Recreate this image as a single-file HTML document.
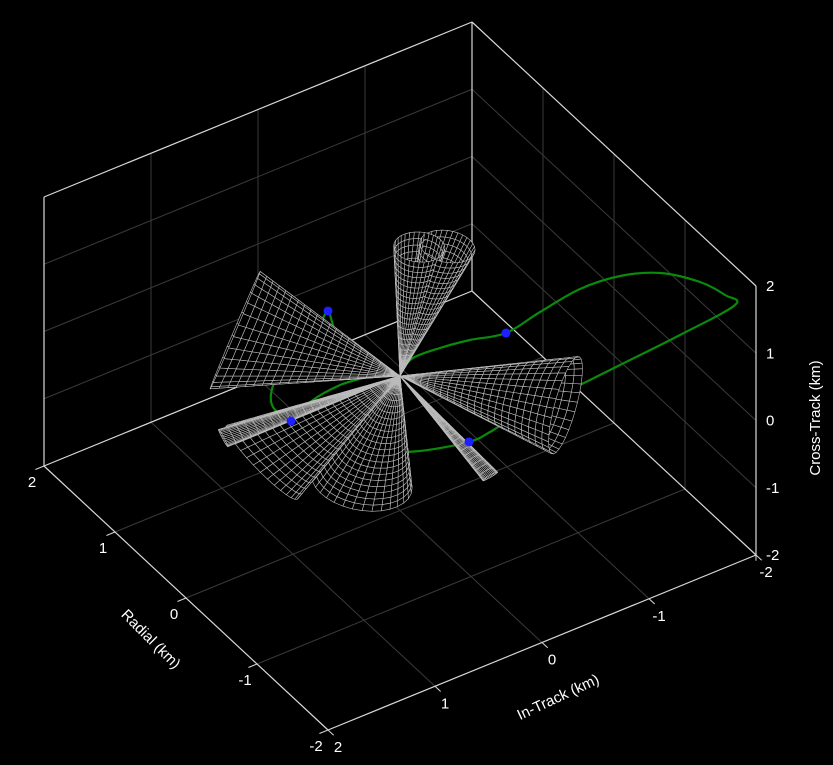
<!DOCTYPE html>
<html><head><meta charset="utf-8"><style>
html,body{margin:0;padding:0;background:#000;}
svg{display:block;}
text{font-family:"Liberation Sans",Arial,sans-serif;fill:#fff;font-size:15px;}
</style></head><body>
<svg id="chart" width="833" height="765" viewBox="0 0 833 765" xmlns="http://www.w3.org/2000/svg">
<rect width="833" height="765" fill="#000"/>
<g id="grid"></g>
<g id="box"></g>
<g id="curve"></g>
<g id="cones"></g>
<g id="dots"></g>
<g id="labels"></g>
<text x="151" y="644" text-anchor="middle" transform="rotate(45 151 639)">Radial (km)</text>
<text x="558" y="702" text-anchor="middle" transform="rotate(-25 558 697)">In-Track (km)</text>
<text x="815" y="423" text-anchor="middle" transform="rotate(-90 815 418)">Cross-Track (km)</text>
</svg>
<script>
// ---- data ----
const ticks = [-2, -1, 0, 1, 2];
const tickLabels = ["-2", "-1", "0", "1", "2"];
// trajectory (Radial, In-Track, Cross-Track) km
const trajR = [0.042,0.133,0.123,0.078,-0.004,-0.212,-0.425,-0.673,-0.955,-1.363,-1.678,-1.883,-1.623,-1.397,-1.171,-0.944,-0.977,-0.991,-0.875,-0.703,-0.425,-0.005,0.246,0.496,0.778,0.912,0.994,0.764,0.436,0.150,0.163,0.122,-0.005];
const trajI = [-0.028,-0.21,-0.455,-0.706,-0.988,-1.168,-1.40,-1.61,-1.797,-1.899,-1.924,-1.881,-1.54,-1.129,-0.718,-0.373,-0.193,0.013,0.394,0.654,0.936,1.022,1.033,0.839,0.465,0.142,0.013,0.101,0.178,0.134,0.452,0.732,1.022];
const trajC = [0,0,0,0,0,0.4,0.8,1.1,1.3,1.5,1.6,1.68,1.2,0.8,0.4,0,0,0,0,0,0,0,0,0,0,0,0,0,0,0,0,0,0];
// waypoints
const dotR = [0.994,-0.005,-0.991,-0.004];
const dotI = [0.013,1.022,0.013,-0.988];
const dotC = [0,0,0,0];
// cones: axis end point (R, I, C) and end radius (km)
const coneR = [-0.08,0.0,0.98,0.32,0.18,0.04,-1.09,-1.02];
const coneI = [-0.39,-0.18,0.89,1.44,1.17,0.33,-0.12,-0.87];
const coneC = [1.75,1.8,0.3,-0.3,-0.7,-1.4,-0.5,0.0];
const coneRad = [0.22,0.2,0.6,0.09,0.45,0.4,0.07,0.48];

// ---- projection ----
function px(r,i,c){return 400-71*r-107*i;}
function py(r,i,c){return 376-66*r+43.75*i-67.25*c;}
function depth(r,i,c){return -1.507*r+i+2.13*c;}
const NS="http://www.w3.org/2000/svg";
function mk(tag,attrs,parent){const e=document.createElementNS(NS,tag);for(const k in attrs)e.setAttribute(k,attrs[k]);parent.appendChild(e);return e;}
function line(g,a,b,stroke,w){return mk('line',{x1:px(...a),y1:py(...a),x2:px(...b),y2:py(...b),stroke:stroke,'stroke-width':w},g);}

// grid
const grid=document.getElementById('grid');
const gc="#3a3a3a";
ticks.slice(1,4).forEach(t=>{
  let l;
  l=line(grid,[2,t,-2],[2,t,2],gc,1);
  
  
  l=line(grid,[2,-2,t],[2,2,t],gc,1);
  
  
  l=line(grid,[t,-2,-2],[t,-2,2],gc,1);
  
  
  l=line(grid,[-2,-2,t],[2,-2,t],gc,1);
  
  
  l=line(grid,[t,-2,-2],[t,2,-2],gc,1);
  
  
  l=line(grid,[-2,t,-2],[2,t,-2],gc,1);
  
  
});
// box
const box=document.getElementById('box');
const bc="#d8d8d8";
[[[2,2,-2],[2,2,2]],[[2,-2,-2],[2,-2,2]],[[-2,-2,-2],[-2,-2,2]],[[2,2,2],[2,-2,2]],[[2,-2,2],[-2,-2,2]],
 [[2,-2,-2],[2,2,-2]],[[2,-2,-2],[-2,-2,-2]],[[2,2,-2],[-2,2,-2]],[[-2,2,-2],[-2,-2,-2]]].forEach(e=>{
  const l=line(box,e[0],e[1],bc,1.2);
  
  
});
// ticks & labels
const lab=document.getElementById('labels');
ticks.forEach((t,k)=>{
  let l=line(box,[t,2,-2],[t,2.08,-2],bc,1);
  
  
  let tx=mk('text',{x:px(t,2,-2)-12,y:py(t,2,-2)+21,'text-anchor':'middle'},lab);
  tx.textContent=tickLabels[k];
  
  
  l=line(box,[-2,t,-2],[-2.08,t,-2],bc,1);
  
  
  tx=mk('text',{x:px(-2,t,-2)+10,y:py(-2,t,-2)+22,'text-anchor':'middle'},lab);
  tx.textContent=tickLabels[k];
  
  
  l=line(box,[-2,-2,t],[-2.06,-1.96,t],bc,1);
  
  
  tx=mk('text',{x:px(-2,-2,t)+10,y:py(-2,-2,t)+5,'text-anchor':'start'},lab);
  tx.textContent=tickLabels[k];
  
  
});

// trajectory (smoothed Catmull-Rom through projected points)
const cg=document.getElementById('curve');
const P=trajR.map((r,k)=>[px(r,trajI[k],trajC[k]),py(r,trajI[k],trajC[k])]);
let d='M'+P[0][0].toFixed(1)+' '+P[0][1].toFixed(1);
for(let k=0;k<P.length-1;k++){
  const p0=P[Math.max(0,k-1)],p1=P[k],p2=P[k+1],p3=P[Math.min(P.length-1,k+2)];
  const c1=[p1[0]+(p2[0]-p0[0])/6,p1[1]+(p2[1]-p0[1])/6];
  const c2=[p2[0]-(p3[0]-p1[0])/6,p2[1]-(p3[1]-p1[1])/6];
  d+=' C'+c1[0].toFixed(1)+' '+c1[1].toFixed(1)+' '+c2[0].toFixed(1)+' '+c2[1].toFixed(1)+' '+p2[0].toFixed(1)+' '+p2[1].toFixed(1);
}
const path=mk('path',{d:d,fill:'none',stroke:'#0a8a0a','stroke-width':2.2,'stroke-linejoin':'round'},cg);



// cones
const cones=document.getElementById('cones');
const quads=[];
const NR=22, NG=32;
coneR.forEach((ar,ci)=>{
  const a=[ar,coneI[ci],coneC[ci]];
  const L=Math.hypot(...a);
  const u=a.map(v=>v/L);
  let ref=Math.abs(u[2])<0.9?[0,0,1]:[1,0,0];
  let e1=[u[1]*ref[2]-u[2]*ref[1],u[2]*ref[0]-u[0]*ref[2],u[0]*ref[1]-u[1]*ref[0]];
  const n1=Math.hypot(...e1); e1=e1.map(v=>v/n1);
  const e2=[u[1]*e1[2]-u[2]*e1[1],u[2]*e1[0]-u[0]*e1[2],u[0]*e1[1]-u[1]*e1[0]];
  const pt=(s,t)=>{const rad=coneRad[ci]*s, th=2*Math.PI*t/NG;
    return [0,1,2].map(j=>a[j]*s+rad*(Math.cos(th)*e1[j]+Math.sin(th)*e2[j]));};
  for(let s=0;s<NR;s++)for(let t=0;t<NG;t++){
    const p=[pt(s/NR,t),pt((s+1)/NR,t),pt((s+1)/NR,t+1),pt(s/NR,t+1)];
    const dep=p.reduce((acc,q)=>acc+depth(...q),0)/4;
    quads.push({p,dep,ci});
  }
});
quads.sort((x,y)=>x.dep-y.dep);
quads.forEach(q=>{
  const pts=q.p.map(v=>px(...v).toFixed(1)+','+py(...v).toFixed(1)).join(' ');
  const pg=mk('polygon',{points:pts,fill:'#000',stroke:'#bdbdbd','stroke-width':0.6},cones);
  
  
});

// waypoints
const dg=document.getElementById('dots');
dotR.forEach((r,k)=>{
  const c=mk('circle',{cx:px(r,dotI[k],dotC[k]),cy:py(r,dotI[k],dotC[k]),r:4.5,fill:'#1f1fff'},dg);
  
  
});
</script>
</body></html>
